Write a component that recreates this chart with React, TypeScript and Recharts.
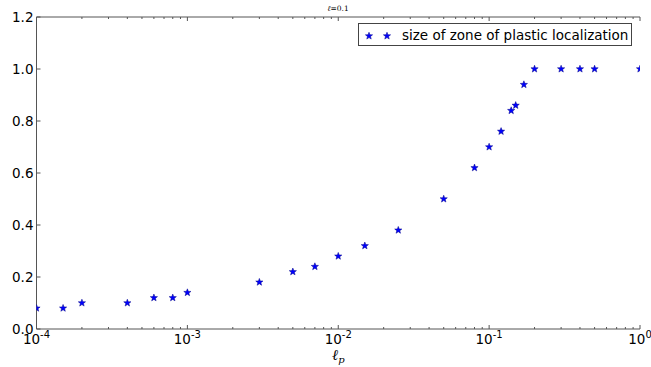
import { ScatterChart, Scatter, XAxis, YAxis, Legend } from "recharts";

const lp = [1e-4, 1.5e-4, 2e-4, 4e-4, 6e-4, 8e-4, 1e-3, 3e-3, 5e-3, 7e-3, 1e-2, 1.5e-2, 2.5e-2, 5e-2, 8e-2, 0.1, 0.12, 0.14, 0.15, 0.17, 0.2, 0.3, 0.4, 0.5, 1];
const zone = [0.08, 0.08, 0.1, 0.1, 0.12, 0.12, 0.14, 0.18, 0.22, 0.24, 0.28, 0.32, 0.38, 0.5, 0.62, 0.7, 0.76, 0.84, 0.86, 0.94, 1.0, 1.0, 1.0, 1.0, 1.0];

const xExponents = [-4, -3, -2, -1, 0];
const minorMult = [2, 3, 4, 5, 6, 7, 8, 9];
const yTicks = [0, 0.2, 0.4, 0.6, 0.8, 1.0, 1.2];

const BLUE = "#0000ff";
const AXIS = "#555";
const FONT = "'DejaVu Sans', sans-serif";

const data = lp.map((x, i) => ({ x, y: zone[i] }));

const majorX = xExponents.map(e => Math.pow(10, e));
const minorX = xExponents.slice(0, -1).flatMap(e => minorMult.map(m => m * Math.pow(10, e)));
const allX = [...majorX, ...minorX].sort((a, b) => a - b);

const isMajor = (v: number) => majorX.some(m => Math.abs(m - v) / m < 1e-6);

function star(cx: number, cy: number, r = 3.8) {
  const pts: string[] = [];
  for (let i = 0; i < 10; i++) {
    const rad = i % 2 === 0 ? r : r * 0.42;
    const a = -Math.PI / 2 + (i * Math.PI) / 5;
    pts.push(`${cx + rad * Math.cos(a)},${cy + rad * Math.sin(a)}`);
  }
  return pts.join(" ");
}

const StarShape = (p: any) => (
  <polygon points={star(p.cx, p.cy)} fill={BLUE} stroke="#00008b" strokeWidth={0.5} />
);

// bottom x ticks: inward tick + 10^n label
const BottomTick = ({ x, y, payload }: any) => {
  const v = payload.value;
  const major = isMajor(v);
  const e = Math.round(Math.log10(v));
  return (
    <g>
      <line x1={x} x2={x} y1={y} y2={y - (major ? 4 : 2)} stroke={AXIS} />
      {major && (
        <text x={x} y={y + 15} textAnchor="middle" fontFamily={FONT} fontSize={13.5} fill="#000">
          10<tspan dy={-6} fontSize={10}>{e}</tspan>
        </text>
      )}
    </g>
  );
};

const TopTick = ({ x, y, payload }: any) => (
  <line x1={x} x2={x} y1={y} y2={y + (isMajor(payload.value) ? 4 : 2)} stroke={AXIS} />
);

const LeftTick = ({ x, y, payload }: any) => (
  <g>
    <line x1={x} x2={x + 4} y1={y} y2={y} stroke={AXIS} />
    <text x={x - 3} y={y + 5} textAnchor="end" fontFamily={FONT} fontSize={13.5} fill="#000">
      {payload.value.toFixed(1)}
    </text>
  </g>
);

const RightTick = ({ x, y }: any) => (
  <line x1={x} x2={x - 4} y1={y} y2={y} stroke={AXIS} />
);

const LegendBox = () => (
  <div
    style={{
      width: 274, height: 23, border: "1px solid #444", background: "#fff",
      display: "flex", alignItems: "center", fontFamily: FONT, fontSize: 13.5, boxSizing: "border-box",
    }}
  >
    <svg width={42} height={20}>
      <polygon points={star(10, 11)} fill={BLUE} stroke="#00008b" strokeWidth={0.5} />
      <polygon points={star(28, 11)} fill={BLUE} stroke="#00008b" strokeWidth={0.5} />
    </svg>
    <span style={{ marginLeft: 1 }}>size of zone of plastic localization</span>
  </div>
);

export default function App() {
  return (
    <div style={{ position: "absolute", left: 0, top: 0, width: 651, height: 367, background: "#fff" }}>
      <div
        style={{
          position: "absolute", left: 0, width: 676, top: 4, textAlign: "center",
          fontFamily: "'DejaVu Serif', serif", fontSize: 7.5, lineHeight: "10px",
        }}
      >
        <i>ℓ</i>=0.1
      </div>
      <ScatterChart width={651} height={367} margin={{ top: 16, right: 11, bottom: 0, left: 0 }}>
        <XAxis
          dataKey="x" type="number" scale="log" domain={[1e-4, 1]} allowDataOverflow
          ticks={allX} interval={0} tickSize={0} tickMargin={0} tickLine={false}
          tick={<BottomTick />} height={38} stroke={AXIS}
          label={({ viewBox }: any) => (
            <text x={viewBox.x + viewBox.width / 2} y={viewBox.y + 31} textAnchor="middle"
              fontFamily="'DejaVu Serif', serif" fontStyle="italic" fontSize={15}>
              ℓ<tspan dy={3} fontSize={10}>p</tspan>
            </text>
          )}
        />
        <XAxis
          xAxisId="top" orientation="top" dataKey="x" type="number" scale="log" domain={[1e-4, 1]}
          allowDataOverflow ticks={allX} interval={0} tickSize={0} tickMargin={0} tickLine={false}
          tick={<TopTick />} height={1} stroke={AXIS}
        />
        <YAxis
          dataKey="y" type="number" domain={[0, 1.2]} ticks={yTicks} interval={0}
          tickSize={0} tickMargin={0} tickLine={false} tick={<LeftTick />} width={36.5} stroke={AXIS}
        />
        <YAxis
          yAxisId="right" orientation="right" dataKey="y" type="number" domain={[0, 1.2]} ticks={yTicks}
          interval={0} tickSize={0} tickMargin={0} tickLine={false} tick={<RightTick />} width={0} stroke={AXIS}
        />
        <Legend
          layout="horizontal" verticalAlign="middle" content={<LegendBox />}
          wrapperStyle={{ position: "absolute", top: 23, left: 358, width: 276, height: 25 }}
        />
        <Scatter data={data} fill={BLUE} shape={StarShape} isAnimationActive={false} name="size of zone of plastic localization" />
        <Scatter data={data} xAxisId="top" yAxisId="right" shape={() => <g />} isAnimationActive={false} legendType="none" />
      </ScatterChart>
    </div>
  );
}
